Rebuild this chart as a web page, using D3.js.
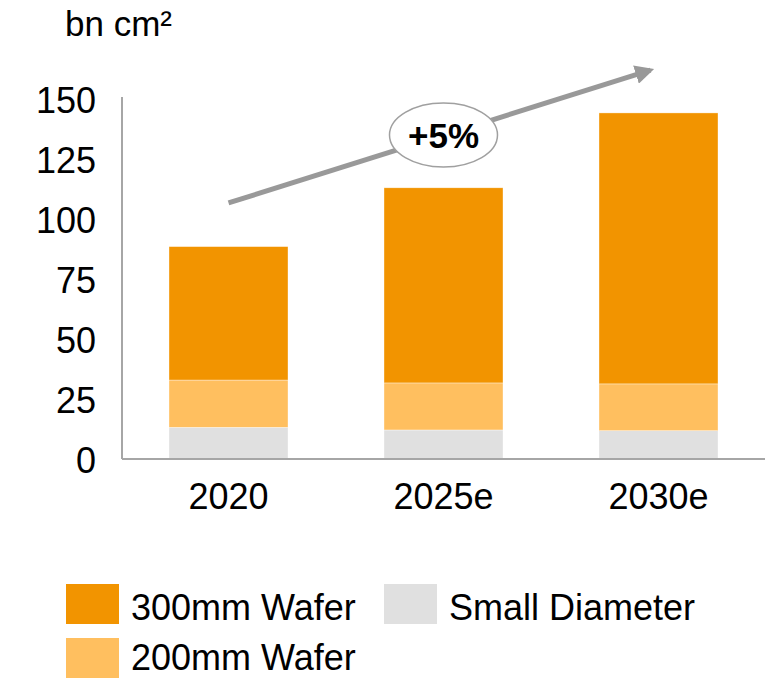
<!DOCTYPE html>
<html>
<head>
<meta charset="utf-8">
<script src="https://cdn.jsdelivr.net/npm/d3@7"></script>
<style>
  html, body { margin: 0; padding: 0; background: #fff; }
  svg { display: block; font-family: Arial, "Liberation Sans", sans-serif; }
</style>
</head>
<body>
<svg id="chart" width="769" height="678"></svg>
<script>
const categories = ["2020", "2025e", "2030e"];
const seriesNames = ["Small Diameter", "200mm Wafer", "300mm Wafer"];
const smallDiameter = [13.2, 12.1, 11.8];
const wafer200 = [19.7, 19.6, 19.5];
const wafer300 = [55.6, 81.3, 112.9];
const yTicks = [0, 25, 50, 75, 100, 125, 150];
const unitLabel = "bn cm²";
const cagrLabel = "+5%";
const arrowFrom = {cat: "2020", value: 106.7};
const arrowTo = {cat: "2030e", value: 162.9};
const colors = {"300mm Wafer": "#F29400", "200mm Wafer": "#FFBF5F", "Small Diameter": "#E0E0E0"};

const rows = categories.map((c, i) => ({
  cat: c,
  "Small Diameter": smallDiameter[i],
  "200mm Wafer": wafer200[i],
  "300mm Wafer": wafer300[i]
}));

const svg = d3.select("#chart");
const x = d3.scaleBand().domain(categories).range([122, 765]).paddingInner(0.4465).paddingOuter(0.2186);
const y = d3.scaleLinear().domain([0, 150]).range([459, 99]);

const stacked = d3.stack().keys(seriesNames)(rows);

svg.append("g").selectAll("g").data(stacked).join("g")
  .attr("fill", d => colors[d.key])
  .selectAll("rect").data(d => d).join("rect")
  .attr("x", d => x(d.data.cat))
  .attr("width", x.bandwidth())
  .attr("y", d => y(d[1]))
  .attr("height", d => y(d[0]) - y(d[1]))
  .attr("stroke", "#fff").attr("stroke-width", 0.6).attr("stroke-opacity", 0.6);

// Y axis
const yAxis = svg.append("g").attr("transform", "translate(122,0)")
  .call(d3.axisLeft(y).tickValues(yTicks).tickSize(0).tickPadding(26));
yAxis.select(".domain").attr("stroke", "#A6A6A6").attr("stroke-width", 2).attr("d", `M0,${y(150)-2}V${y(0)}`);
yAxis.selectAll("text").attr("font-size", 36).attr("dy", "0.38em").attr("fill", "#000")
  .attr("font-family", "Arial, 'Liberation Sans', sans-serif");

// X axis
const xAxis = svg.append("g").attr("transform", `translate(0,${y(0)})`)
  .call(d3.axisBottom(x).tickSize(0).tickPadding(24));
xAxis.select(".domain").attr("stroke", "#A6A6A6").attr("stroke-width", 2).attr("d", `M122,0H765`);
xAxis.selectAll("text").attr("font-size", 36).attr("fill", "#000")
  .attr("font-family", "Arial, 'Liberation Sans', sans-serif");

// Unit label
svg.append("text").attr("x", 65).attr("y", 36).attr("font-size", 35).attr("fill", "#000").text(unitLabel);

// Arrow
const defs = svg.append("defs");
defs.append("marker").attr("id", "ah").attr("viewBox", "0 0 10 10").attr("refX", 8).attr("refY", 5)
  .attr("markerWidth", 3.8).attr("markerHeight", 3.8).attr("orient", "auto").attr("markerUnits", "strokeWidth")
  .append("path").attr("d", "M0,0L10,5L0,10z").attr("fill", "#999");
const ax1 = x(arrowFrom.cat) + x.bandwidth() / 2, ay1 = y(arrowFrom.value);
const ax2 = x(arrowTo.cat) + x.bandwidth() / 2 - 2, ay2 = y(arrowTo.value);
svg.append("line").attr("x1", ax1).attr("y1", ay1).attr("x2", ax2 - 6).attr("y2", ay2 + 2)
  .attr("stroke", "#999").attr("stroke-width", 5).attr("marker-end", "url(#ah)");

const cx = x("2025e") + x.bandwidth() / 2, cy = y(135);
svg.append("ellipse").attr("cx", cx).attr("cy", cy).attr("rx", 54).attr("ry", 32)
  .attr("fill", "#fff").attr("stroke", "#A0A0A0").attr("stroke-width", 1.5);
svg.append("text").attr("x", cx).attr("y", cy + 13).attr("text-anchor", "middle")
  .attr("font-size", 35).attr("font-weight", "bold").attr("fill", "#000").text(cagrLabel);

// Legend
const legendItems = [
  {name: "300mm Wafer", x: 66, y: 584, ty: 36},
  {name: "Small Diameter", x: 384, y: 584, ty: 36},
  {name: "200mm Wafer", x: 66, y: 638, ty: 32}
];
const lg = svg.append("g").selectAll("g").data(legendItems).join("g")
  .attr("transform", d => `translate(${d.x},${d.y})`);
lg.append("rect").attr("width", 53).attr("height", 40).attr("fill", d => colors[d.name]);
lg.append("text").attr("x", 65).attr("y", d => d.ty).attr("font-size", 36).attr("fill", "#000").text(d => d.name);
</script>
</body>
</html>
